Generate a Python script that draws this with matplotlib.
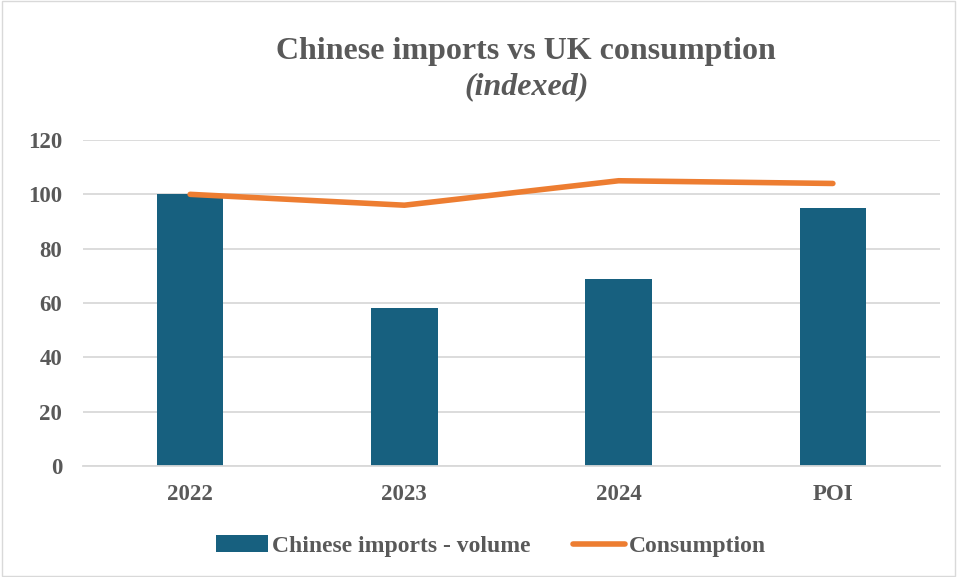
import numpy as np
import matplotlib.pyplot as plt
from matplotlib.patches import Rectangle

categories = ['2022', '2023', '2024', 'POI']
imports_volume = [100, 58, 69, 95]
consumption = [100, 96, 105, 104]

bar_color = '#17607f'
line_color = '#ed7d31'
text_color = '#595959'

plt.rcParams['font.family'] = ['Liberation Serif', 'DejaVu Serif']
plt.rcParams['font.weight'] = 'bold'

fig = plt.figure(figsize=(9.57, 5.77), dpi=100)
ax = fig.add_axes([83 / 957, 1 - 466 / 577, (940 - 83) / 957, (466 - 140) / 577])

x = np.arange(len(categories))
bars = ax.bar(x, imports_volume, width=0.31, color=bar_color, label='Chinese imports - volume', zorder=2)
line, = ax.plot(x, consumption, color=line_color, linewidth=4, solid_capstyle='round',
                label='Consumption', zorder=3)

ax.set_xlim(-0.5, len(categories) - 0.5)
ax.set_ylim(0, 120)
ax.set_yticks(range(0, 121, 20))
ax.set_xticks(x)
ax.set_xticklabels(categories)
ax.grid(axis='y', color='#d9d9d9', linewidth=1.3, zorder=0)
ax.set_axisbelow(True)
for s in ['top', 'right', 'left']:
    ax.spines[s].set_visible(False)
ax.spines['bottom'].set_color('#d9d9d9')
ax.spines['bottom'].set_linewidth(1.3)
ax.tick_params(length=0, labelsize=16.5, labelcolor=text_color)
ax.tick_params(axis='x', pad=13)
ax.tick_params(axis='y', pad=15)
for lab in ax.get_xticklabels() + ax.get_yticklabels():
    lab.set_fontweight('bold')

fig.text(526 / 957, 1 - 52 / 577, 'Chinese imports vs UK consumption', ha='center', va='center',
         fontsize=23, fontweight='bold', color=text_color)
fig.text(527 / 957, 1 - 87 / 577, '(indexed)', ha='center', va='center',
         fontsize=23, fontweight='bold', style='italic', color=text_color)

leg = fig.legend([bars, line], ['Chinese imports - volume', 'Consumption'],
                 loc='center', bbox_to_anchor=(491 / 957, 1 - 546 / 577), ncol=2, frameon=False,
                 fontsize=17, handlelength=2.2, handletextpad=0.15, columnspacing=1.8)
for t in leg.get_texts():
    t.set_color(text_color)
    t.set_fontweight('bold')

fig.patches.append(Rectangle((0.002, 0.002), 0.996, 0.996, transform=fig.transFigure,
                             fill=False, edgecolor='#d9d9d9', linewidth=1))

fig.savefig('out.png', dpi=100)
